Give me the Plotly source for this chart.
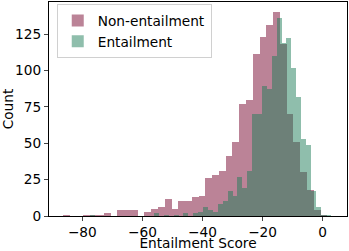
import plotly.graph_objects as go

# Non-entailment histogram (40 bins)
non_ent_start = -86.4
non_ent_width = 2.255
non_ent_counts = [1, 0, 0, 1, 1, 1, 2, 0, 4, 4,
                  4, 0, 3, 5, 6, 12, 5, 10, 10, 13,
                  14, 26, 28, 31, 41, 51, 77, 80, 111, 123,
                  131, 140, 118, 70, 51, 30, 18, 4, 1, 0]

# Entailment histogram (50 bins)
ent_start = -79.0
ent_width = 1.633
ent_counts = [0, 1, 0, 0, 0, 0, 0, 0, 0, 0,
              0, 0, 0, 0, 2, 0, 1, 0, 1, 0,
              2, 0, 2, 3, 6, 4, 3, 8, 10, 17,
              14, 27, 19, 31, 70, 70, 89, 87, 110, 136,
              119, 122, 102, 82, 53, 49, 17, 6, 1, 1]

x_ticks = [-80, -60, -40, -20, 0]
y_ticks = [0, 25, 50, 75, 100, 125]

def centers(start, width, n):
    return [start + width * (i + 0.5) for i in range(n)]

FONT = "DejaVu Sans"
FS = 13.7

fig = go.Figure()
fig.add_trace(go.Bar(
    x=centers(non_ent_start, non_ent_width, len(non_ent_counts)),
    y=non_ent_counts, width=non_ent_width, name="Non-entailment",
    marker=dict(color="rgba(119,8,48,0.5)", line=dict(width=0)),
))
fig.add_trace(go.Bar(
    x=centers(ent_start, ent_width, len(ent_counts)),
    y=ent_counts, width=ent_width, name="Entailment",
    marker=dict(color="rgba(31,125,89,0.5)", line=dict(width=0)),
))

fig.update_layout(
    width=349, height=251,
    margin=dict(l=49, r=2, t=2, b=35, autoexpand=False),
    barmode="overlay", bargap=0,
    plot_bgcolor="white", paper_bgcolor="white",
    font=dict(family=FONT, size=FS, color="black"),
    showlegend=True,
    legend=dict(x=0.026, y=0.99, xanchor="left", yanchor="top",
                bgcolor="white", bordercolor="#d0d0d0", borderwidth=1,
                font=dict(family=FONT, size=FS), tracegroupgap=0,
                traceorder="normal"),
    xaxis=dict(range=[-91.1, 8.1], tickvals=x_ticks, ticks="outside", ticklen=4,
               automargin=True,
               showgrid=False, zeroline=False, showline=True, linecolor="black",
               linewidth=1, mirror=True,
               title=dict(text="Entailment Score", font=dict(family=FONT, size=FS),
                          standoff=3)),
    yaxis=dict(range=[0, 147], tickvals=y_ticks, ticks="outside", ticklen=4,
               automargin=False,
               showgrid=False, zeroline=False, showline=True, linecolor="black",
               linewidth=1, mirror=True,
               title=dict(text="Count", font=dict(family=FONT, size=FS))),
)

fig.write_html("out.html",
               config={"displayModeBar": False},
               post_script="document.body.style.margin='0px';document.body.style.overflow='hidden';")
